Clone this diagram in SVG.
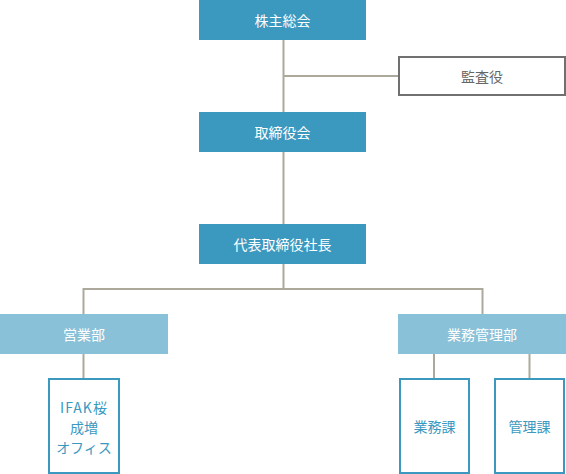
<svg xmlns="http://www.w3.org/2000/svg" width="566" height="474" viewBox="0 0 566 474">
<style>
text{font-family:"Noto Sans CJK JP","Noto Sans",sans-serif;font-size:14px;text-anchor:middle;dominant-baseline:central}
.dark{fill:#3b98bf}
.light{fill:#89c1d8}
.wt{fill:#ffffff}
.out{fill:#ffffff;stroke:#3b98bf;stroke-width:2}
.bt{fill:#3b98bf}
.gray{fill:#ffffff;stroke:#707070;stroke-width:2}
.gt{fill:#666666}
.con{stroke:#aca99c;stroke-width:2;fill:none}
</style>
<g id="connectors">
<path class="con" d="M283.5 40V112M283.5 76H399M283.5 152V224M283.5 264V289M83.5 289H482.5M83.5 288V314M482.5 288V314M83.5 354V378M434 354V378M529.5 354V378"/>
</g>
<g id="n1"><rect class="dark" x="199" y="0" width="167" height="40"/><text class="wt" x="282.5" y="20">株主総会</text></g>
<g id="n2"><rect class="gray" x="399" y="57" width="166" height="38"/><text class="gt" x="482" y="76">監査役</text></g>
<g id="n3"><rect class="dark" x="199" y="112" width="167" height="40"/><text class="wt" x="282.5" y="132">取締役会</text></g>
<g id="n4"><rect class="dark" x="199" y="224" width="167" height="40"/><text class="wt" x="282.5" y="244">代表取締役社長</text></g>
<g id="n5"><rect class="light" x="0" y="314" width="168" height="40"/><text class="wt" x="84" y="334">営業部</text></g>
<g id="n6"><rect class="light" x="398" y="314" width="168" height="40"/><text class="wt" x="482" y="334">業務管理部</text></g>
<g id="n7"><rect class="out" x="49" y="379" width="70" height="94"/><text class="bt" x="84" y="407" letter-spacing="1">IFAK桜</text><text class="bt" x="84" y="427">成増</text><text class="bt" x="84" y="447">オフィス</text></g>
<g id="n8"><rect class="out" x="400" y="379" width="69" height="94"/><text class="bt" x="434.5" y="426">業務課</text></g>
<g id="n9"><rect class="out" x="495" y="379" width="69" height="94"/><text class="bt" x="529.5" y="426">管理課</text></g>
</svg>
